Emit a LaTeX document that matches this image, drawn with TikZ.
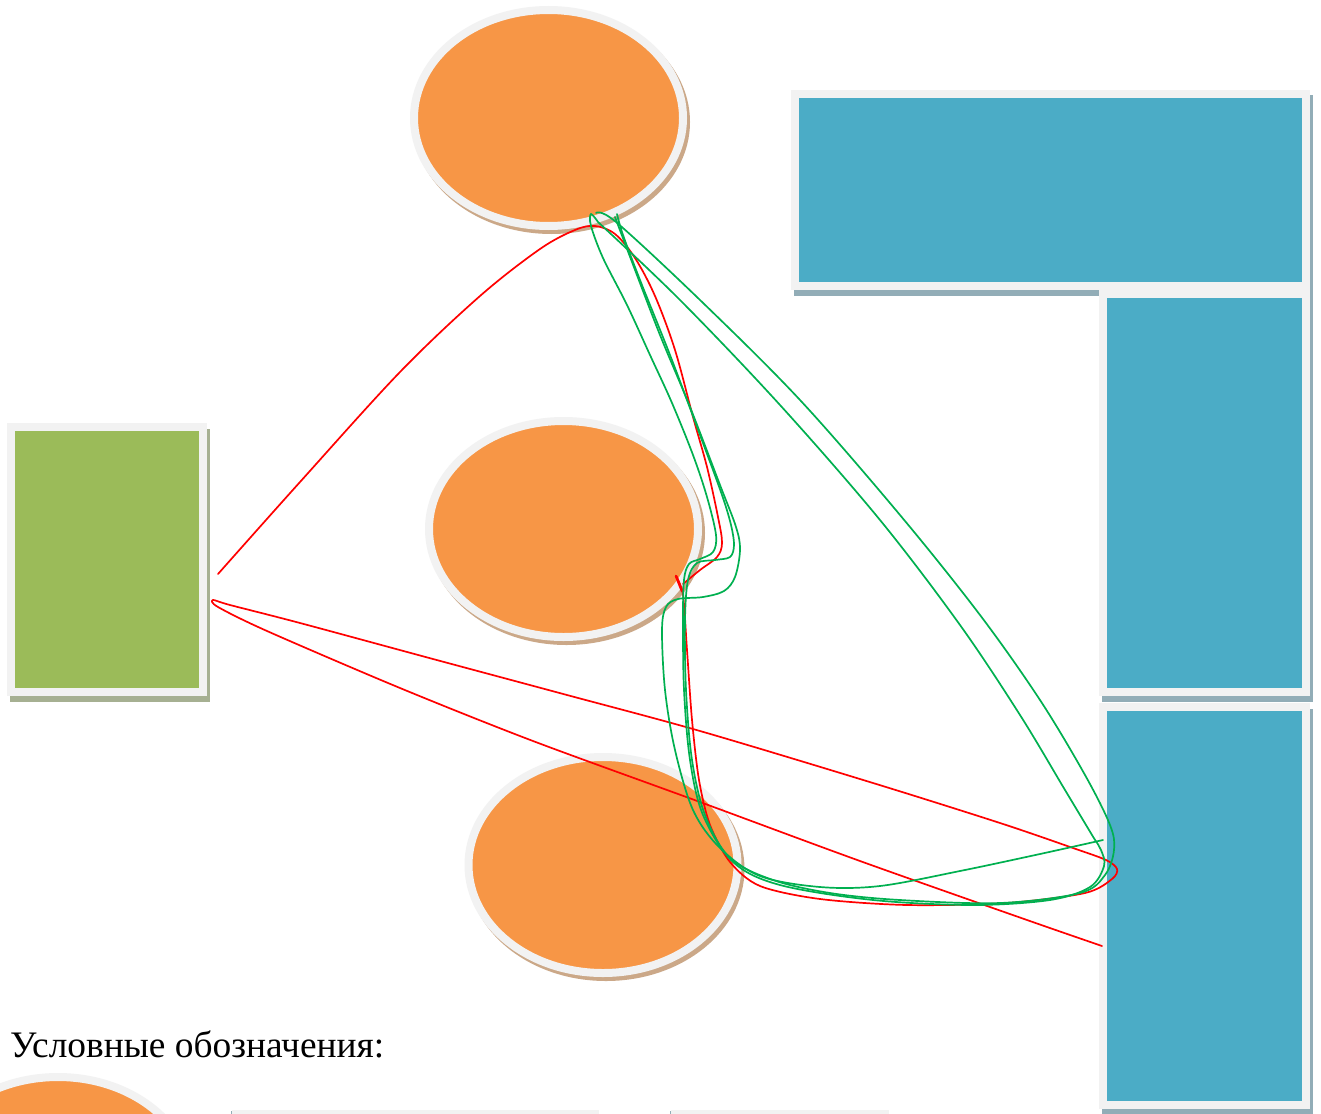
\documentclass[tikz,border=0pt]{standalone}
\usepackage{fontspec}
\setmainfont{Liberation Serif}
\usetikzlibrary{shapes.geometric}
\definecolor{orangeF}{HTML}{F79646}
\definecolor{greenF}{HTML}{9BBB59}
\definecolor{blueF}{HTML}{4BACC6}
\definecolor{greyB}{HTML}{F2F2F2}
\definecolor{tanS}{RGB}{203,168,136}
\definecolor{blueS}{RGB}{146,173,183}
\definecolor{greenS}{RGB}{166,176,146}
\definecolor{redL}{HTML}{FF0000}
\definecolor{greenL}{HTML}{00B050}
\tikzset{
  oell/.style={ellipse, draw=greyB, line width=8pt, fill=orangeF, minimum width=269pt, minimum height=216pt, inner sep=0pt},
  ellshadow/.style={fill=tanS},
  bbox/.style={rectangle, draw=greyB, line width=8pt, fill=blueF, inner sep=0pt},
  gbox/.style={rectangle, draw=greyB, line width=8pt, fill=greenF, inner sep=0pt},
  route/.style={line width=1.7pt, line join=round, line cap=round},
  redroute/.style={route, draw=redL},
  greenroute/.style={route, draw=greenL},
}
\begin{document}
\begin{tikzpicture}[x=1pt,y=-1pt]
\path[use as bounding box] (0,0) rectangle (1321,1113);
\clip (0,0) rectangle (1321,1113);
\fill[white] (0,0) rectangle (1321,1113);

% ---- shadows of boxes ----
\fill[greenS] (10,429) rectangle (210,702);
\fill[blueS] (794,95) rectangle (1313,296);
% top blue box
\node[bbox, minimum width=511pt, minimum height=192pt] (topbox) at (1050.5,190) {};
\fill[blueS] (1102,296) rectangle (1313,702);
\node[bbox, minimum width=203pt, minimum height=398pt] (rbox1) at (1204.5,493) {};
\fill[blueS] (1102,709) rectangle (1313,1115);
\node[bbox, minimum width=203pt, minimum height=398pt] (rbox2) at (1204.5,906) {};
% green box
\node[gbox, minimum width=192pt, minimum height=265pt] (gbox) at (107,559.5) {};

% ---- ellipses ----
\fill[ellshadow] (551.5,122) ellipse [x radius=138.5, y radius=112];
\node[oell] (e1) at (548.5,118) {};
\fill[ellshadow] (566.5,533) ellipse [x radius=138.5, y radius=112];
\node[oell] (e2) at (563.5,529) {};
\fill[ellshadow] (606,869) ellipse [x radius=138.5, y radius=112];
\node[oell] (e3) at (603,865) {};

% ---- legend ----
\node[anchor=base west, inner sep=0pt, font=\fontsize{37.4}{45}\selectfont] (legtitle) at (10,1057) {Условные обозначения:};
\fill[ellshadow] (61,1189) ellipse [x radius=138.5, y radius=112];
\node[oell] (lege) at (58,1185) {};
\fill[blueS] (231,1111) rectangle (598,1200);
\node[bbox, minimum width=359pt, minimum height=80pt, anchor=north west] (legr1) at (232,1110) {};
\fill[blueS] (670,1111) rectangle (888,1200);
\node[bbox, minimum width=210pt, minimum height=80pt, anchor=north west] (legr2) at (671,1110) {};

% ---- route end points ----
\coordinate (rA) at (218,574);
\coordinate (rB) at (683,584);
\coordinate (rC) at (676,576);
\coordinate (rD) at (1102,946);
\coordinate (gFree) at (1103,840);
\coordinate (gTop) at (615,217);

% ---- red routes ----
\draw[redroute] plot[smooth, tension=0.55] coordinates {(rA) (300,482) (400,372) (480,296) (540,249) (575,230) (595,226) (615,234) (635,258) (655,296) (675,350) (693,417) (707,467) (718,517) (722,543) (717,557) (700,570) (rB)};
\draw[redroute, line width=2.6pt] (rC) -- (682,591);
\draw[redroute] plot[smooth, tension=0.5] coordinates {(rC) (683,595) (687,650) (692,720) (699,780) (710,825) (730,862) (760,886) (820,899) (907,905) (1007,903) (1085,893) (1112,879) (1117,869) (1106,860) (1073,848) (1000,823) (873,783) (700,731) (567,695) (433,659) (300,623) (230,605) (213,600) (218,607) (267,631) (400,688) (533,741) (700,802) (860,861) (1027,920) (rD)};

% ---- green routes ----
\draw[greenroute] plot[smooth, tension=0.55] coordinates {(gTop) (632,262) (660,335) (690,407) (720,485) (736,527) (740,550) (735,577) (724,591) (703,597) (678,599) (666,607) (662,630) (665,690) (675,750) (693,810) (720,848) (760,876) (820,887) (880,886) (960,871) (1040,854) (gFree)};
\draw[greenroute] plot[smooth, tension=0.55] coordinates {(598,222) (591,214) (591,226) (603,258) (627,305) (650,355) (672,403) (693,455) (707,497) (716,535) (713,552) (700,559) (689,564) (684,580) (683,620) (684,690) (690,760) (703,815) (733,862) (780,885) (873,900) (973,905) (1050,900) (1090,887) (1104,866) (1101,850) (1092,835) (1065,790) (1020,715) (960,625) (880,520) (780,405) (680,300) (598,222)};
\draw[greenroute] plot[smooth, tension=0.55] coordinates {(596,213) (616,222) (700,300) (800,400) (900,515) (980,615) (1040,700) (1085,775) (1110,825) (1114,850) (1105,875) (1080,893) (1000,903) (900,900) (830,893) (773,880) (730,858) (705,815) (692,760) (686,690) (685,620) (688,580) (697,563) (715,560) (730,557) (734,545) (731,525) (722,495) (700,435) (670,355) (640,280) (623,235) (617,214)};
\end{tikzpicture}
\end{document}
